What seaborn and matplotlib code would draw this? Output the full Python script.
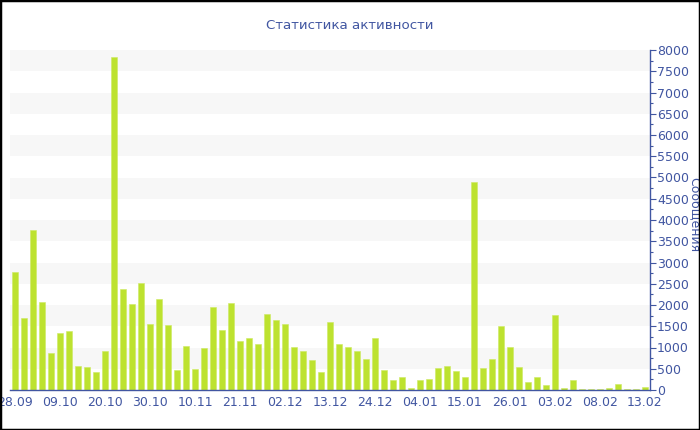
import pandas as pd
import seaborn as sns
import matplotlib.pyplot as plt
from matplotlib.patches import Rectangle
from matplotlib.ticker import MultipleLocator

# Messages per period
messages = [2770, 1700, 3765, 2070, 865, 1335, 1390, 565, 540, 430,
            920, 7835, 2385, 2015, 2520, 1545, 2135, 1530, 470, 1045,
            485, 980, 1955, 1420, 2045, 1160, 1215, 1090, 1780, 1640,
            1545, 1020, 925, 715, 430, 1600, 1080, 1010, 920, 720,
            1215, 480, 245, 305, 45, 235, 260, 520, 575, 455,
            300, 4905, 525, 730, 1500, 1020, 535, 180, 300, 110,
            1765, 40, 225, 30, 30, 30, 40, 140, 30, 30, 80]
tick_labels = ["28.09", "09.10", "20.10", "30.10", "10.11", "21.11", "02.12", "13.12",
               "24.12", "04.01", "15.01", "26.01", "03.02", "08.02", "13.02"]

df = pd.DataFrame({"idx": range(len(messages)), "messages": messages})

blue = "#4156a1"
sns.set_style("white")
plt.rcParams['font.family'] = ['DejaVu Sans']

fig = plt.figure(figsize=(7, 4.3), dpi=100)
ax = fig.add_axes([10 / 700, 40 / 430, 640 / 700, 340 / 430])

# alternating light bands
for lo in range(500, 8000, 1000):
    ax.axhspan(lo, lo + 500, color="#f7f7f7", zorder=0, lw=0)

sns.barplot(data=df, x="idx", y="messages", color="#bde22f", width=0.74,
            edgecolor="#cdea62", linewidth=0.4, saturation=1, ax=ax, zorder=2)

ax.set_xlim(-0.56, len(messages) - 0.44)
ax.set_ylim(0, 8000)
ax.set_xticks(range(0, len(messages), 5))
ax.set_xticklabels(tick_labels)
ax.yaxis.tick_right()
ax.yaxis.set_label_position("right")
ax.yaxis.set_major_locator(MultipleLocator(500))
ax.yaxis.set_minor_locator(MultipleLocator(250))
ax.tick_params(axis="y", which="major", direction="out", length=4, width=0.8,
               color=blue, labelcolor=blue, labelsize=9, pad=1)
ax.tick_params(axis="y", which="minor", direction="out", length=2.5, width=0.8, color=blue)
ax.tick_params(axis="x", direction="out", length=3, width=0.8, color=blue,
               labelcolor=blue, labelsize=9, pad=1)
ax.set_xlabel("")
ax.set_ylabel("Сообщения", rotation=270, color=blue, fontsize=9, va="center")
ax.yaxis.set_label_coords(1.07, 0.515)

for side in ["top", "left"]:
    ax.spines[side].set_visible(False)
for side in ["bottom", "right"]:
    ax.spines[side].set_color(blue)
    ax.spines[side].set_linewidth(1)

fig.text(0.5, 0.94, "Статистика активности", ha="center", va="center",
         color=blue, fontsize=9.6)

# border round the whole picture
fig.patches.append(Rectangle((0, 0), 1, 1, transform=fig.transFigure, fill=False,
                             edgecolor="black", linewidth=2.5, zorder=10))

fig.savefig("out.png", dpi=100)
